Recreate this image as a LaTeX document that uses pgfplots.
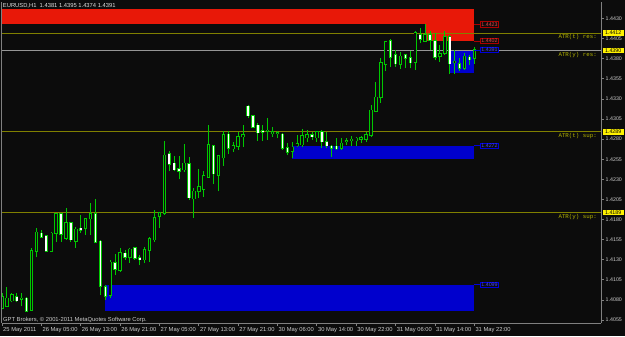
\documentclass[border=0pt]{standalone}
\usepackage{pgfplots}
\pgfplotsset{compat=1.18}
\usepackage{pgfplotstable}
\usetikzlibrary{backgrounds}
\usepackage{fontspec}
\setmainfont{Liberation Sans}
\newfontfamily\monofont{Liberation Mono}
\definecolor{bg}{RGB}{12,12,12}
\definecolor{cg}{RGB}{0,200,0}
\definecolor{zred}{RGB}{232,24,8}
\definecolor{zblue}{RGB}{0,0,205}
\definecolor{atr}{RGB}{128,128,0}
\definecolor{atrtext}{RGB}{180,180,0}
\definecolor{axgray}{RGB}{128,128,128}
\definecolor{lbl}{RGB}{205,205,205}
\definecolor{hdr}{RGB}{225,225,225}
\definecolor{bidgray}{RGB}{150,150,150}
\definecolor{rbord}{RGB}{170,0,0}
\definecolor{rtext}{RGB}{235,70,70}
\definecolor{bbord}{RGB}{0,0,220}
\definecolor{btext}{RGB}{70,70,255}
\newcommand\mytf{\fontsize{5.8bp}{7bp}\selectfont}
\newcommand\mysf{\fontsize{5.3bp}{6bp}\selectfont}

\pgfplotstableread{
i O H L C
0 1.4070 1.4089 1.4069 1.4084
1 1.4072 1.4096 1.4071 1.4082
2 1.4079 1.4089 1.4077 1.4086
4 1.4081 1.4089 1.4072 1.4082
6 1.4067 1.4145 1.4066 1.4141
7 1.4141 1.4169 1.4133 1.4164
10 1.4141 1.4164 1.4140 1.4163
11 1.4163 1.4188 1.4152 1.4187
13 1.4157 1.4194 1.4155 1.4176
15 1.4153 1.4171 1.4145 1.4168
17 1.4169 1.4182 1.4161 1.4181
18 1.4181 1.4201 1.4161 1.4187
22 1.4086 1.4130 1.4082 1.4127
24 1.4117 1.4145 1.4115 1.4139
26 1.4133 1.4145 1.4126 1.4143
29 1.4130 1.4146 1.4126 1.4142
30 1.4142 1.4158 1.4127 1.4156
31 1.4155 1.4192 1.4152 1.4182
32 1.4184 1.4189 1.4169 1.4188
33 1.4188 1.4278 1.4186 1.4260
37 1.4242 1.4274 1.4239 1.4250
39 1.4206 1.4219 1.4182 1.4215
40 1.4215 1.4243 1.4207 1.4221
41 1.4218 1.4240 1.4208 1.4234
42 1.4233 1.4298 1.4232 1.4273
44 1.4235 1.4260 1.4215 1.4259
45 1.4257 1.4290 1.4247 1.4285
47 1.4268 1.4276 1.4264 1.4272
48 1.4271 1.4289 1.4267 1.4283
49 1.4283 1.4298 1.4270 1.4285
54 1.4290 1.4306 1.4279 1.4291
55 1.4287 1.4295 1.4283 1.4289
56 1.4287 1.4290 1.4281 1.4288
59 1.4265 1.4276 1.4257 1.4270
60 1.4272 1.4285 1.4270 1.4274
61 1.4273 1.4293 1.4270 1.4284
62 1.4282 1.4291 1.4277 1.4285
64 1.4282 1.4290 1.4277 1.4289
69 1.4269 1.4281 1.4267 1.4275
70 1.4277 1.4281 1.4273 1.4278
71 1.4278 1.4284 1.4271 1.4280
72 1.4278 1.4283 1.4272 1.4281
73 1.4280 1.4284 1.4275 1.4282
74 1.4280 1.4289 1.4277 1.4285
75 1.4285 1.4322 1.4283 1.4316
76 1.4315 1.4351 1.4314 1.4332
77 1.4332 1.4381 1.4325 1.4375
78 1.4373 1.4402 1.4365 1.4401
81 1.4373 1.4389 1.4367 1.4383
84 1.4376 1.4414 1.4366 1.4412
86 1.4402 1.4423 1.4401 1.4410
89 1.4383 1.4397 1.4376 1.4386
90 1.4387 1.4415 1.4385 1.4407
92 1.4375 1.4391 1.4361 1.4377
94 1.4368 1.4387 1.4366 1.4383
96 1.4381 1.4395 1.4374 1.4391
}\bull

\pgfplotstableread{
i O H L C
3 1.4084 1.4089 1.4077 1.4079
5 1.4082 1.4084 1.4065 1.4066
8 1.4163 1.4167 1.4157 1.4158
9 1.4160 1.4161 1.4140 1.4141
12 1.4187 1.4188 1.4152 1.4162
14 1.4176 1.4177 1.4152 1.4155
16 1.4169 1.4186 1.4163 1.4167
19 1.4187 1.4206 1.4151 1.4152
20 1.4153 1.4155 1.4086 1.4097
21 1.4096 1.4099 1.4080 1.4085
23 1.4126 1.4137 1.4111 1.4118
25 1.4138 1.4142 1.4130 1.4133
27 1.4145 1.4146 1.4130 1.4132
28 1.4132 1.4136 1.4123 1.4130
34 1.4262 1.4265 1.4240 1.4249
35 1.4250 1.4259 1.4240 1.4242
36 1.4243 1.4259 1.4230 1.4240
38 1.4249 1.4258 1.4204 1.4207
43 1.4272 1.4273 1.4224 1.4237
46 1.4286 1.4290 1.4262 1.4269
50 1.4321 1.4322 1.4306 1.4309
51 1.4309 1.4310 1.4294 1.4295
52 1.4297 1.4300 1.4278 1.4288
53 1.4290 1.4298 1.4278 1.4289
57 1.4286 1.4288 1.4267 1.4269
58 1.4269 1.4275 1.4260 1.4264
63 1.4285 1.4289 1.4279 1.4283
65 1.4289 1.4291 1.4269 1.4277
66 1.4277 1.4289 1.4269 1.4272
67 1.4271 1.4273 1.4258 1.4269
68 1.4271 1.4281 1.4267 1.4268
79 1.4402 1.4405 1.4370 1.4382
80 1.4385 1.4391 1.4370 1.4374
82 1.4385 1.4386 1.4368 1.4381
83 1.4381 1.4390 1.4368 1.4375
85 1.4410 1.4418 1.4399 1.4404
87 1.4410 1.4414 1.4391 1.4403
88 1.4402 1.4412 1.4378 1.4382
91 1.4407 1.4410 1.4361 1.4374
93 1.4374 1.4381 1.4365 1.4368
95 1.4382 1.4385 1.4372 1.4379
}\bear

\pgfplotsset{
  candle/.style 2 args={draw=none, mark=none, forget plot,
    error bars/.cd, y dir=plus, y explicit, error mark=none,
    error bar style={draw=#1, line width=#2}},
}

\begin{document}
\begin{tikzpicture}[x=1bp,y=1bp]
\begin{axis}[
  scale only axis, width=599bp, height=321bp,
  xmin=0, xmax=121.75, ymin=1.40513, ymax=1.44506,
  axis x line*=bottom, axis y line*=right,
  axis line style={draw=axgray, line width=0.8bp, -},
  tick align=outside, major tick length=3bp,
  tick style={draw=axgray, line width=0.8bp},
  xtick={0,8,16,24,32,40,48,56,64,72,80,88,96},
  xticklabels={25 May 2011,26 May 05:00,26 May 13:00,26 May 21:00,27 May 05:00,27 May 13:00,27 May 21:00,30 May 06:00,30 May 14:00,30 May 22:00,31 May 06:00,31 May 14:00,31 May 22:00},
  xticklabel style={anchor=north west, inner sep=1bp, font=\mytf, text=lbl},
  ytick={1.4055,1.4080,1.4105,1.4130,1.4155,1.4180,1.4205,1.4230,1.4255,1.4280,1.4305,1.4330,1.4355,1.4380,1.4405,1.4430},
  scaled y ticks=false,
  yticklabel={\pgfmathprintnumber[fixed,fixed zerofill,precision=4,assume math mode=true]{\tick}},
  yticklabel style={font=\mysf, text=lbl, inner sep=1.5bp},
  clip=true,
]
% zones
\addplot[fill=zred, draw=none, forget plot] coordinates {(-5,1.4423) (96,1.4423) (96,1.4442) (-5,1.4442)} -- cycle;
\addplot[fill=zred, draw=none, forget plot] coordinates {(86,1.4402) (96,1.4402) (96,1.4442) (86,1.4442)} -- cycle;
\addplot[fill=zblue, draw=none, forget plot] coordinates {(91,1.4362) (96,1.4362) (96,1.4391) (91,1.4391)} -- cycle;
\addplot[fill=zblue, draw=none, forget plot] coordinates {(59,1.4255) (96,1.4255) (96,1.4272) (59,1.4272)} -- cycle;
\addplot[fill=zblue, draw=none, forget plot] coordinates {(21,1.4066) (96,1.4066) (96,1.4099) (21,1.4099)} -- cycle;
% ATR lines and bid line
\addplot[atr, line width=0.9bp, forget plot] coordinates {(-5,1.4412) (130,1.4412)};
\addplot[atr, line width=0.9bp, forget plot] coordinates {(-5,1.4390) (130,1.4390)};
\addplot[atr, line width=0.9bp, forget plot] coordinates {(-5,1.4289) (130,1.4289)};
\addplot[atr, line width=0.9bp, forget plot] coordinates {(-5,1.4189) (130,1.4189)};
\addplot[bidgray, line width=0.6bp, forget plot] coordinates {(-5,1.4391) (130,1.4391)};
% wicks
\addplot[candle={cg}{0.9bp}] table[x=i, y=L, y error expr=\thisrow{H}-\thisrow{L}] {\bull};
\addplot[candle={cg}{0.9bp}] table[x=i, y=L, y error expr=\thisrow{H}-\thisrow{L}] {\bear};
% body outlines
\addplot[candle={cg}{3.4bp}] table[x=i, y expr=\thisrow{O}-0.00008, y error expr=\thisrow{C}-\thisrow{O}+0.00016] {\bull};
\addplot[candle={cg}{3.4bp}] table[x=i, y expr=\thisrow{C}-0.00008, y error expr=\thisrow{O}-\thisrow{C}+0.00016] {\bear};
% body fills
\addplot[candle={bg}{1.6bp}] table[x=i, y=O, y error expr=\thisrow{C}-\thisrow{O}] {\bull};
\addplot[candle={white}{1.6bp}] table[x=i, y=C, y error expr=\thisrow{O}-\thisrow{C}] {\bear};
% anchors
\coordinate (sw) at (rel axis cs:0,0);
\coordinate (r1) at (axis cs:96,1.4423);
\coordinate (r2) at (axis cs:96,1.4402);
\coordinate (b1) at (axis cs:96,1.4391);
\coordinate (b2) at (axis cs:96,1.4272);
\coordinate (b3) at (axis cs:96,1.4099);
\coordinate (a1) at (axis cs:121.75,1.4412);
\coordinate (a2) at (axis cs:121.75,1.4390);
\coordinate (a3) at (axis cs:121.75,1.4289);
\coordinate (a4) at (axis cs:121.75,1.4189);
\end{axis}
% page = 625 x 336 around the plot box (plot box spans pixels x 2..601, y 2..323)
\pgfresetboundingbox
\path[use as bounding box] ([shift={(-2,-13)}]sw) rectangle ([shift={(623,323)}]sw);
\begin{scope}[on background layer]
\fill[bg] ([shift={(-2,-13)}]sw) rectangle ([shift={(623,323)}]sw);
\end{scope}
% left border
\draw[axgray, line width=0.8bp] ([shift={(-0.6,0)}]sw) -- ([shift={(-0.6,321)}]sw);
% zone labels
\foreach \c/\t in {r1/1.4423, r2/1.4402}{
  \draw[rbord, line width=0.6bp] (\c) -- ++(6,0);
  \node[anchor=west, draw=rbord, line width=0.6bp, fill=bg, text=rtext, font=\mysf, inner sep=0.8bp] at ([xshift=6bp]\c) {\t};
}
\foreach \c/\t in {b1/1.4391, b2/1.4272, b3/1.4099}{
  \draw[bbord, line width=0.6bp] (\c) -- ++(6,0);
  \node[anchor=west, draw=bbord, line width=0.6bp, fill=bg, text=btext, font=\mysf, inner sep=0.8bp] at ([xshift=6bp]\c) {\t};
}
% ATR texts
\node[anchor=north east, text=atrtext, font=\monofont\fontsize{5.8bp}{7bp}\selectfont, inner sep=0pt] at ([xshift=-4bp,yshift=-1.5bp]a1) {ATR(t) res:};
\node[anchor=north east, text=atrtext, font=\monofont\fontsize{5.8bp}{7bp}\selectfont, inner sep=0pt] at ([xshift=-4bp,yshift=-1.5bp]a2) {ATR(y) res:};
\node[anchor=north east, text=atrtext, font=\monofont\fontsize{5.8bp}{7bp}\selectfont, inner sep=0pt] at ([xshift=-4bp,yshift=-1.5bp]a3) {ATR(t) sup:};
\node[anchor=north east, text=atrtext, font=\monofont\fontsize{5.8bp}{7bp}\selectfont, inner sep=0pt] at ([xshift=-4bp,yshift=-1.5bp]a4) {ATR(y) sup:};
% yellow value boxes
\foreach \c/\t in {a1/1.4412, a2/1.4390, a3/1.4289, a4/1.4189}{
  \node[anchor=west, fill=yellow, text=black, font=\mysf, inner sep=0.8bp, minimum width=21bp] at ([xshift=1.5bp]\c) {\t};
}
% header and copyright
\node[anchor=north west, fill=bg, text=hdr, font=\mytf, inner sep=0.8bp] at ([shift={(0,321)}]sw) {EURUSD,H1 \ 1.4381 1.4395 1.4374 1.4391};
\node[anchor=base west, text=lbl, font=\mytf, inner sep=0pt] at ([shift={(1,2)}]sw) {GPT Brokers, © 2001-2011 MetaQuotes Software Corp.};
\end{tikzpicture}
\end{document}
